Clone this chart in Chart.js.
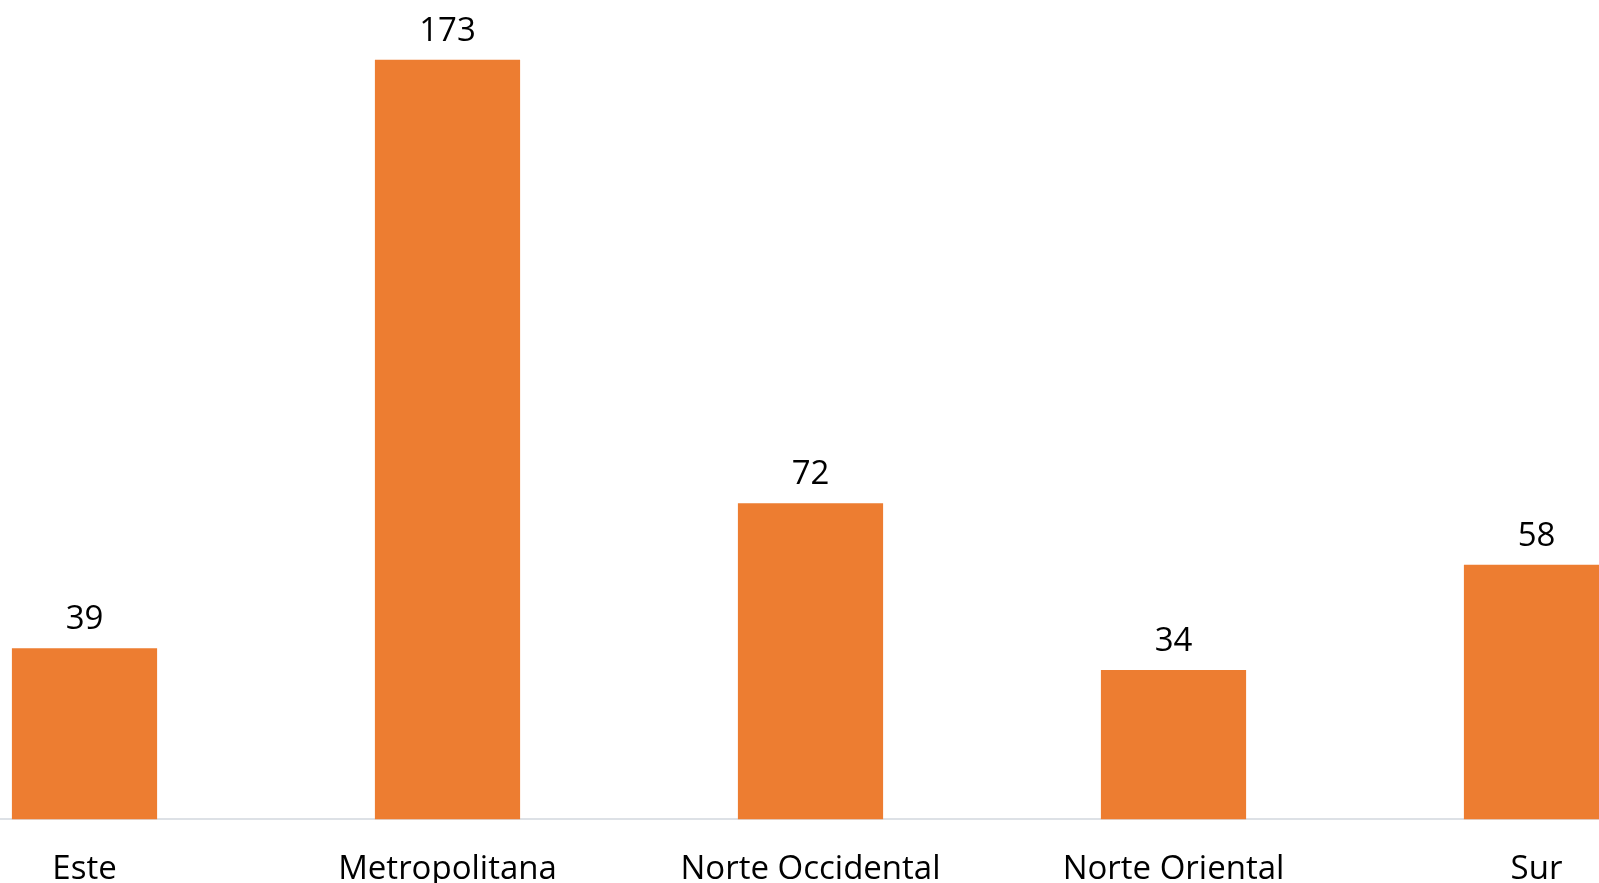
<!DOCTYPE html>
<html>
<head>
<meta charset="utf-8">
<script src="https://cdn.jsdelivr.net/npm/chart.js@4"></script>
<style>
  html, body { margin: 0; padding: 0; overflow: hidden; background: #fff; }
  #wrap { position: absolute; left: -97px; top: 0; width: 1815px; height: 919px; }
</style>
</head>
<body>
<div id="wrap"><canvas id="chart" width="1815" height="919"></canvas></div>
<script>
var regiones = ["Este", "Metropolitana", "Norte Occidental", "Norte Oriental", "Sur"];
var valores = [39, 173, 72, 34, 58];

var fontName = "'Open Sans', 'Liberation Sans', sans-serif";

// draws the number above each bar
var valueLabels = {
    id: "valueLabels",
    afterDatasetsDraw: function(chart) {
        var ctx = chart.ctx;
        var meta = chart.getDatasetMeta(0);
        ctx.save();
        ctx.fillStyle = "#000";
        ctx.font = "33px " + fontName;
        ctx.textAlign = "center";
        ctx.textBaseline = "bottom";
        meta.data.forEach(function(bar, i) {
            ctx.fillText(valores[i], bar.x, bar.y - 12);
        });
        ctx.restore();
    }
};

new Chart("chart", {
    type: "bar",
    data: {
        labels: regiones,
        datasets: [{
            data: valores,
            backgroundColor: "#ED7D31",
            categoryPercentage: 0.8,
            barPercentage: 0.5
        }]
    },
    options: {
        responsive: false,
        animation: false,
        layout: { padding: { top: 29, left: 0, right: 0, bottom: 0 } },
        plugins: {
            legend: { display: false },
            tooltip: { enabled: false }
        },
        scales: {
            x: {
                grid: { display: false, drawTicks: false },
                border: { color: "#dde1e6", width: 2 },
                ticks: {
                    color: "#000",
                    padding: 30,
                    maxRotation: 0,
                    autoSkip: false,
                    font: { family: fontName, size: 33 }
                }
            },
            y: {
                display: false,
                min: 0,
                max: 180
            }
        }
    },
    plugins: [valueLabels]
});
</script>
</body>
</html>
